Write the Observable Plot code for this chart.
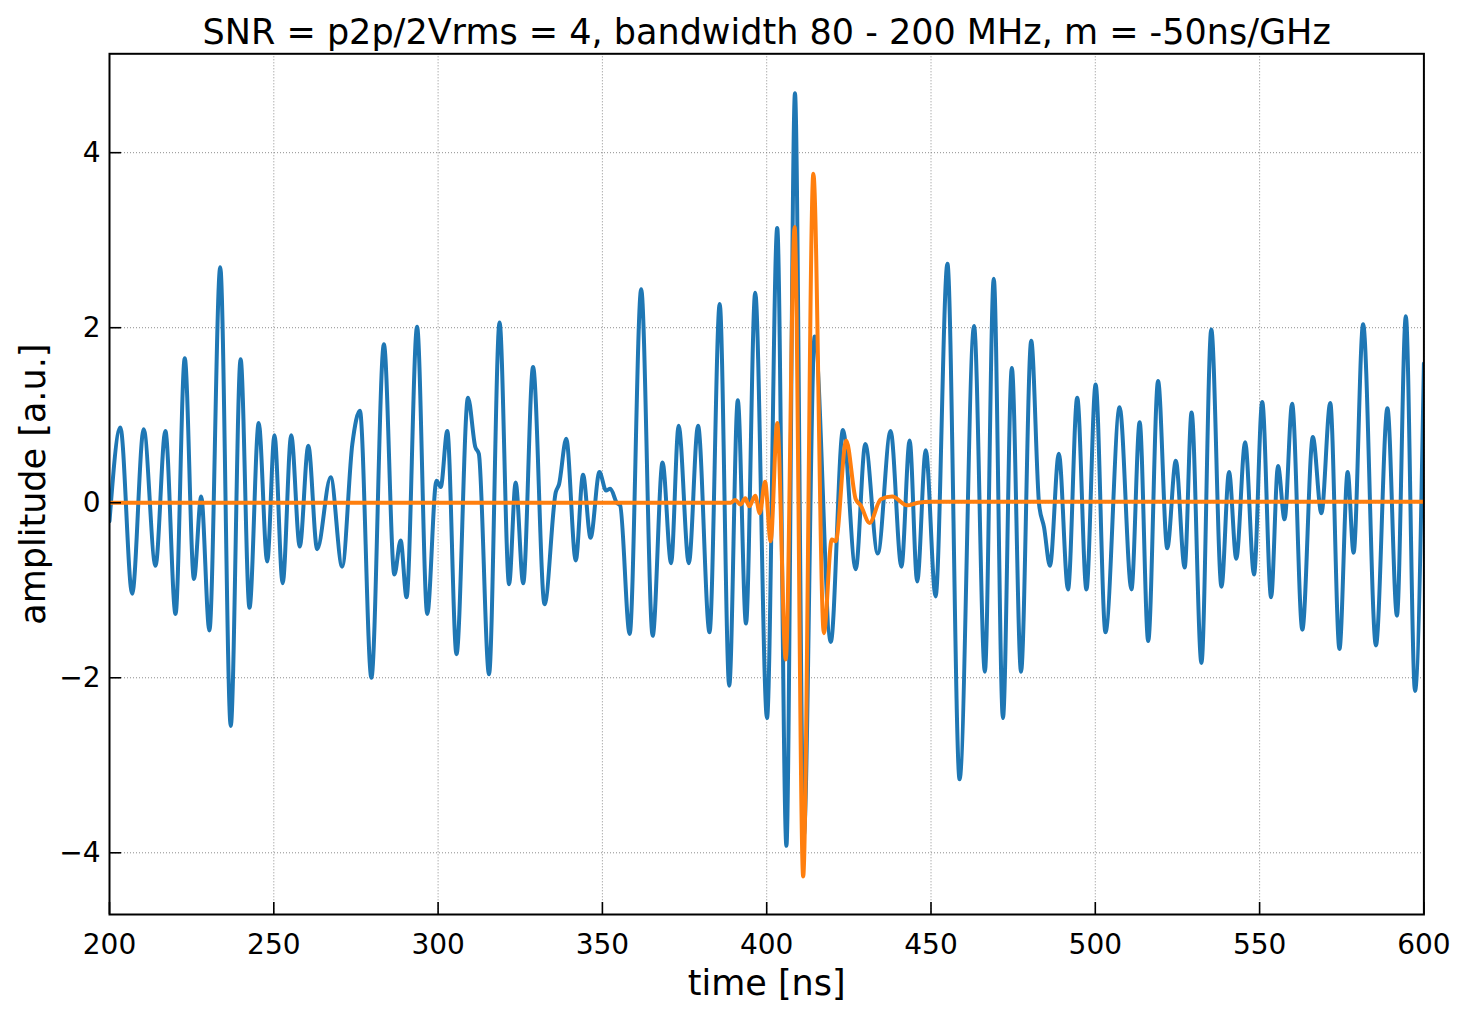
<!DOCTYPE html>
<html>
<head>
<meta charset="utf-8">
<script src="https://cdn.jsdelivr.net/npm/d3@7"></script>
<script src="https://cdn.jsdelivr.net/npm/@observablehq/plot@0.6"></script>
<style>
  html, body { margin: 0; padding: 0; background: #fff; }
  #chart { width: 1467px; height: 1016px; }
</style>
</head>
<body>
<div id="chart"></div>
<script>
const titleText = "SNR = p2p/2Vrms = 4, bandwidth 80 - 200 MHz, m = -50ns/GHz";
const xLabel = "time [ns]";
const yLabel = "amplitude [a.u.]";
const xTicks = [200, 250, 300, 350, 400, 450, 500, 550, 600];
const yTicks = [-4, -2, 0, 2, 4];

// blue: noisy trace (times in ns, amplitude in a.u.), read at extrema
const blueT = [
  200.0, 203.3, 206.9, 210.4, 214.0, 217.0, 220.1, 222.9, 225.7, 227.9,
  230.4, 233.7, 236.9, 239.9, 242.6, 245.4, 248.0, 250.2, 252.7, 255.3,
  257.9, 260.5, 263.2, 267.3, 270.8, 273.9, 276.2, 279.7, 283.5, 286.7,
  288.6, 290.4, 293.6, 296.7, 299.5, 300.8, 302.8, 305.6, 309.1, 311.3,
  312.4, 315.5, 318.7, 321.6, 323.6, 325.9, 328.9, 332.4, 335.8, 336.8,
  339.0, 341.9, 344.1, 346.4, 349.1, 351.1, 352.4, 354.4, 355.4, 358.3,
  361.8, 365.3, 368.3, 370.9, 373.2, 376.3, 379.1, 382.6, 385.7, 388.6,
  391.2, 393.7, 396.5, 400.1, 403.2, 406.0, 408.6, 411.3, 414.6, 419.5,
  423.2, 427.1, 430.0, 433.8, 437.7, 441.0, 443.5, 445.8, 448.4, 451.4,
  455.0, 458.7, 463.1, 466.4, 469.1, 471.9, 474.6, 477.4, 480.5, 482.9,
  484.4, 486.2, 488.9, 491.7, 494.5, 497.3, 500.1, 503.1, 507.4, 511.0,
  513.5, 516.1, 519.1, 521.9, 524.5, 527.2, 529.3, 532.3, 535.3, 538.4,
  540.7, 542.9, 545.6, 548.3, 550.8, 553.5, 555.6, 557.6, 559.9, 563.0,
  566.2, 568.8, 571.5, 574.3, 576.8, 578.6, 581.5, 585.4, 588.9, 591.8,
  594.5, 597.3, 600.0
];
const blueV = [
  -0.21, 0.86, -1.04, 0.84, -0.72, 0.82, -1.27, 1.65, -0.87, 0.07,
  -1.46, 2.69, -2.55, 1.64, -1.20, 0.91, -0.67, 0.77, -0.92, 0.77,
  -0.50, 0.65, -0.53, 0.29, -0.73, 0.67, 1.05, -2.00, 1.81, -0.82,
  -0.43, -1.08, 2.01, -1.27, 0.25, 0.18, 0.82, -1.73, 1.20, 0.64,
  0.56, -1.96, 2.06, -0.93, 0.23, -0.92, 1.55, -1.16, 0.12, 0.21,
  0.73, -0.66, 0.32, -0.40, 0.35, 0.14, 0.16, 0.00, -0.03, -1.50,
  2.44, -1.52, 0.46, -0.69, 0.88, -0.69, 0.88, -1.48, 2.27, -2.09,
  1.17, -1.38, 2.40, -2.46, 3.14, -3.92, 4.68, -3.80, 1.90, -1.59,
  0.83, -0.76, 0.67, -0.58, 0.82, -0.73, 0.71, -0.90, 0.60, -1.07,
  2.73, -3.16, 2.02, -1.93, 2.56, -2.46, 1.54, -1.93, 1.85, -0.02,
  -0.28, -0.72, 0.56, -0.99, 1.20, -0.99, 1.35, -1.48, 1.09, -0.99,
  0.92, -1.58, 1.39, -0.52, 0.48, -0.74, 1.03, -1.83, 1.98, -0.96,
  0.35, -0.64, 0.69, -0.82, 1.15, -1.08, 0.42, -0.19, 1.13, -1.45,
  0.75, -0.12, 1.14, -1.67, 0.35, -0.57, 2.04, -1.63, 1.08, -1.29,
  2.13, -2.15, 1.59
];

// orange: clean dispersed pulse
const orangeT = [
  200.0, 389.0, 390.4, 392.0, 393.5, 394.7, 396.5, 397.9, 399.5, 401.2,
  403.2, 405.8, 408.5, 411.1, 414.2, 417.4, 419.8, 421.0, 424.2, 427.1,
  428.6, 431.3, 434.7, 438.2, 442.8, 446.0, 450.0, 600.0
];
const orangeV = [
  0.00, 0.00, 0.03, -0.02, 0.05, -0.04, 0.08, -0.12, 0.24, -0.44,
  0.91, -1.79, 3.15, -4.27, 3.76, -1.49, -0.42, -0.44, 0.71, 0.04,
  -0.03, -0.23, 0.04, 0.07, -0.03, 0.00, 0.01, 0.01
];

const blue = blueT.map((t, i) => ({t, v: blueV[i]}));
const orange = orangeT.map((t, i) => ({t, v: orangeV[i]}));

const fmt = d => d < 0 ? "\u2212" + Math.abs(d) : String(d);
const gridStyle = {stroke: "#808080", strokeOpacity: 1, strokeWidth: 0.9, strokeDasharray: "1,2"};

const chart = Plot.plot({
  width: 1467,
  height: 1016,
  marginLeft: 109,
  marginRight: 43.6,
  marginTop: 53.3,
  marginBottom: 102,
  style: {fontFamily: "DejaVu Sans", fontSize: "28px", background: "#fff", color: "#000", overflow: "visible"},
  x: {domain: [200, 600]},
  y: {domain: [-4.705, 5.13]},
  marks: [
    Plot.gridX(xTicks, gridStyle),
    Plot.gridY(yTicks, gridStyle),
    Plot.line(blue, {x: "t", y: "v", stroke: "#1f77b4", strokeWidth: 4, curve: "monotone-x", clip: true}),
    Plot.line(orange, {x: "t", y: "v", stroke: "#ff7f0e", strokeWidth: 4, curve: "monotone-x", clip: true}),
    Plot.frame({stroke: "#000", strokeWidth: 2}),
    Plot.axisX(xTicks, {tickSize: -12, tickPadding: 32, strokeWidth: 1.6, tickFormat: fmt, label: null, fill: "#000"}),
    Plot.axisY(yTicks, {tickSize: -12, tickPadding: 21, strokeWidth: 1.6, tickFormat: fmt, label: null, fill: "#000"}),
    Plot.text([titleText], {frameAnchor: "top", dy: -10.3, lineAnchor: "bottom", fontSize: 35, fill: "#000"}),
    Plot.text([xLabel], {frameAnchor: "bottom", dy: 80, lineAnchor: "bottom", fontSize: 35, fill: "#000"}),
    Plot.text([yLabel], {frameAnchor: "left", dx: -65, rotate: -90, lineAnchor: "bottom", textAnchor: "middle", fontSize: 35, fill: "#000"})
  ]
});
document.getElementById("chart").appendChild(chart);
</script>
</body>
</html>
